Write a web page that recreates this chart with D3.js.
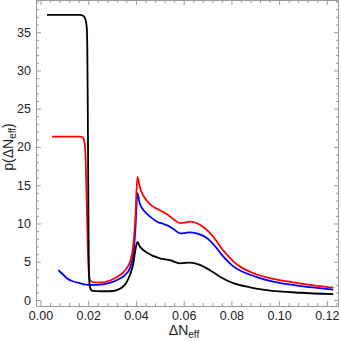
<!DOCTYPE html>
<html lang="en">
<head>
<meta charset="utf-8">
<script src="https://cdn.jsdelivr.net/npm/d3@7"></script>
<style>
    body { margin: 0; background: #fff; }
    svg { display: block; font-family: "Liberation Sans", Arial, sans-serif; }
</style>
</head>
<body>
<script>
    // curves: x = dNeff, y = p(dNeff)
    let blackX = [0.0027, 0.0165, 0.0180, 0.0189, 0.0194, 0.0196, 0.0198, 0.0200, 0.0202, 0.0205, 0.0210, 0.0218, 0.025, 0.029, 0.032, 0.034, 0.036, 0.0375, 0.0389, 0.0398, 0.0406, 0.0416, 0.0428, 0.0445, 0.0500, 0.0543, 0.0584, 0.0626, 0.0668, 0.0710, 0.0752, 0.0808, 0.0878, 0.0948, 0.1087, 0.1227];
    let blackY = [37.25, 37.25, 37.1, 36.6, 35.5, 33, 25, 15, 6, 2.2, 1.4, 1.2, 1.15, 1.15, 1.3, 1.6, 2.3, 3.3, 4.8, 6.6, 7.6, 7.0, 6.6, 6.2, 5.45, 5.2, 4.8, 4.9, 4.6, 3.9, 3.05, 2.2, 1.66, 1.3, 0.95, 0.78];

    let redX = [0.0048, 0.0165, 0.0178, 0.0184, 0.0188, 0.0191, 0.0195, 0.0199, 0.0203, 0.0210, 0.0225, 0.025, 0.0291, 0.032, 0.0347, 0.0362, 0.0375, 0.0389, 0.0398, 0.0406, 0.0416, 0.0428, 0.0445, 0.0467, 0.0490, 0.0514, 0.0535, 0.0560, 0.0585, 0.0605, 0.0628, 0.0650, 0.0670, 0.0692, 0.0712, 0.0735, 0.0760, 0.0785, 0.0808, 0.0840, 0.0878, 0.0910, 0.0948, 0.1000, 0.1050, 0.1100, 0.1160, 0.1227];
    let redY = [21.35, 21.35, 21.2, 20.6, 19.3, 16, 11, 6, 3.3, 2.5, 2.3, 2.28, 2.55, 3.0, 3.6, 4.2, 5.0, 7.2, 11, 16.1, 14.8, 13.8, 13.0, 12.3, 11.9, 11.5, 11.1, 10.5, 10.05, 10.1, 10.25, 10.1, 9.8, 9.3, 8.7, 7.8, 6.7, 5.8, 5.05, 4.3, 3.7, 3.3, 2.95, 2.6, 2.35, 2.1, 1.85, 1.62];

    let blueX = [0.0075, 0.0095, 0.011, 0.0135, 0.0165, 0.019, 0.0215, 0.025, 0.0277, 0.031, 0.0333, 0.0355, 0.0375, 0.0389, 0.0398, 0.0406, 0.0416, 0.0428, 0.0445, 0.0467, 0.0490, 0.0514, 0.0535, 0.0560, 0.0585, 0.0605, 0.0628, 0.0650, 0.0670, 0.0692, 0.0712, 0.0735, 0.0760, 0.0785, 0.0808, 0.0840, 0.0878, 0.0910, 0.0948, 0.1000, 0.1050, 0.1100, 0.1160, 0.1227];
    let blueY = [3.9, 3.3, 2.85, 2.45, 2.2, 2.02, 1.96, 2.0, 2.15, 2.45, 2.8, 3.3, 4.2, 6.0, 9.5, 13.95, 12.6, 11.9, 11.3, 10.7, 10.2, 9.95, 9.7, 9.2, 8.7, 8.75, 8.85, 8.75, 8.55, 8.2, 7.7, 6.9, 5.9, 5.05, 4.4, 3.8, 3.3, 2.95, 2.6, 2.25, 2.0, 1.78, 1.58, 1.35];

    let xTicks = [0, 0.02, 0.04, 0.06, 0.08, 0.10, 0.12];
    let yTicks = [0, 5, 10, 15, 20, 25, 30, 35];

    let w = 341, h = 341;
    let padL = 36, padR = 339, padT = 0, padB = 306;

    let svg = d3.select("body").append("svg")
        .attr("width", w)
        .attr("height", h);

    let xScale = d3.scaleLinear().domain([-0.0019, 0.1251]).range([padL, padR]);
    let yScale = d3.scaleLinear().domain([-0.78, 39.2]).range([padB, padT]);

    let xMinor = d3.range(0, 0.1251, 0.004).filter(v => !xTicks.some(t => Math.abs(t - v) < 1e-6));
    let yMinor = d3.range(0, 39.2, 1).filter(v => v % 5 != 0);

    let frameColor = "#9a9a9a";

    function styleAxis(g) {
        g.select(".domain").remove();
        g.selectAll("line").attr("stroke", frameColor);
        g.selectAll("text").attr("fill", "#222").style("font-size", "12.5px");
    }

    // bottom
    svg.append("g").attr("transform", "translate(0," + padB + ")")
        .call(d3.axisBottom(xScale).tickValues(xTicks).tickSize(-5).tickPadding(5).tickFormat(d3.format(".2f")))
        .call(styleAxis);
    svg.append("g").attr("transform", "translate(0," + padB + ")")
        .call(d3.axisBottom(xScale).tickValues(xMinor).tickSize(-3).tickFormat(""))
        .call(styleAxis);
    // top
    svg.append("g").attr("transform", "translate(0," + padT + ")")
        .call(d3.axisTop(xScale).tickValues(xTicks).tickSize(-5).tickFormat(""))
        .call(styleAxis);
    svg.append("g").attr("transform", "translate(0," + padT + ")")
        .call(d3.axisTop(xScale).tickValues(xMinor).tickSize(-3).tickFormat(""))
        .call(styleAxis);
    // left
    svg.append("g").attr("transform", "translate(" + padL + ",0)")
        .call(d3.axisLeft(yScale).tickValues(yTicks).tickSize(-5).tickPadding(5))
        .call(styleAxis);
    svg.append("g").attr("transform", "translate(" + padL + ",0)")
        .call(d3.axisLeft(yScale).tickValues(yMinor).tickSize(-3).tickFormat(""))
        .call(styleAxis);
    // right
    svg.append("g").attr("transform", "translate(" + padR + ",0)")
        .call(d3.axisRight(yScale).tickValues(yTicks).tickSize(-5).tickFormat(""))
        .call(styleAxis);
    svg.append("g").attr("transform", "translate(" + padR + ",0)")
        .call(d3.axisRight(yScale).tickValues(yMinor).tickSize(-3).tickFormat(""))
        .call(styleAxis);

    svg.append("rect")
        .attr("x", padL + 0.5).attr("y", padT + 0.5)
        .attr("width", padR - padL - 1).attr("height", padB - padT)
        .attr("fill", "none")
        .attr("stroke", frameColor);

    let line = d3.line()
        .x(d => xScale(d[0]))
        .y(d => yScale(d[1]))
        .curve(d3.curveMonotoneX);

    let series = [
        { xs: blueX, ys: blueY, color: "#0000ff" },
        { xs: redX, ys: redY, color: "#ff0000" },
        { xs: blackX, ys: blackY, color: "#000000" }
    ];

    svg.selectAll("path.curve")
        .data(series)
        .enter()
        .append("path")
        .attr("class", "curve")
        .attr("d", d => line(d.xs.map((x, i) => [x, d.ys[i]])))
        .attr("fill", "none")
        .attr("stroke", d => d.color)
        .attr("stroke-width", 1.8);

    // axis labels
    let xl = svg.append("text")
        .attr("x", 184)
        .attr("y", 335)
        .attr("text-anchor", "middle")
        .attr("fill", "#222")
        .style("font-size", "14px");
    xl.append("tspan").text("\u0394N");
    xl.append("tspan").attr("dy", 3).style("font-size", "10px").text("eff");

    let yl = svg.append("text")
        .attr("transform", "translate(13,147) rotate(-90)")
        .attr("text-anchor", "middle")
        .attr("fill", "#222")
        .style("font-size", "14px");
    yl.append("tspan").text("p(\u0394N");
    yl.append("tspan").attr("dy", 3).style("font-size", "10px").text("eff");
    yl.append("tspan").attr("dy", -3).text(")");
</script>
</body>
</html>
